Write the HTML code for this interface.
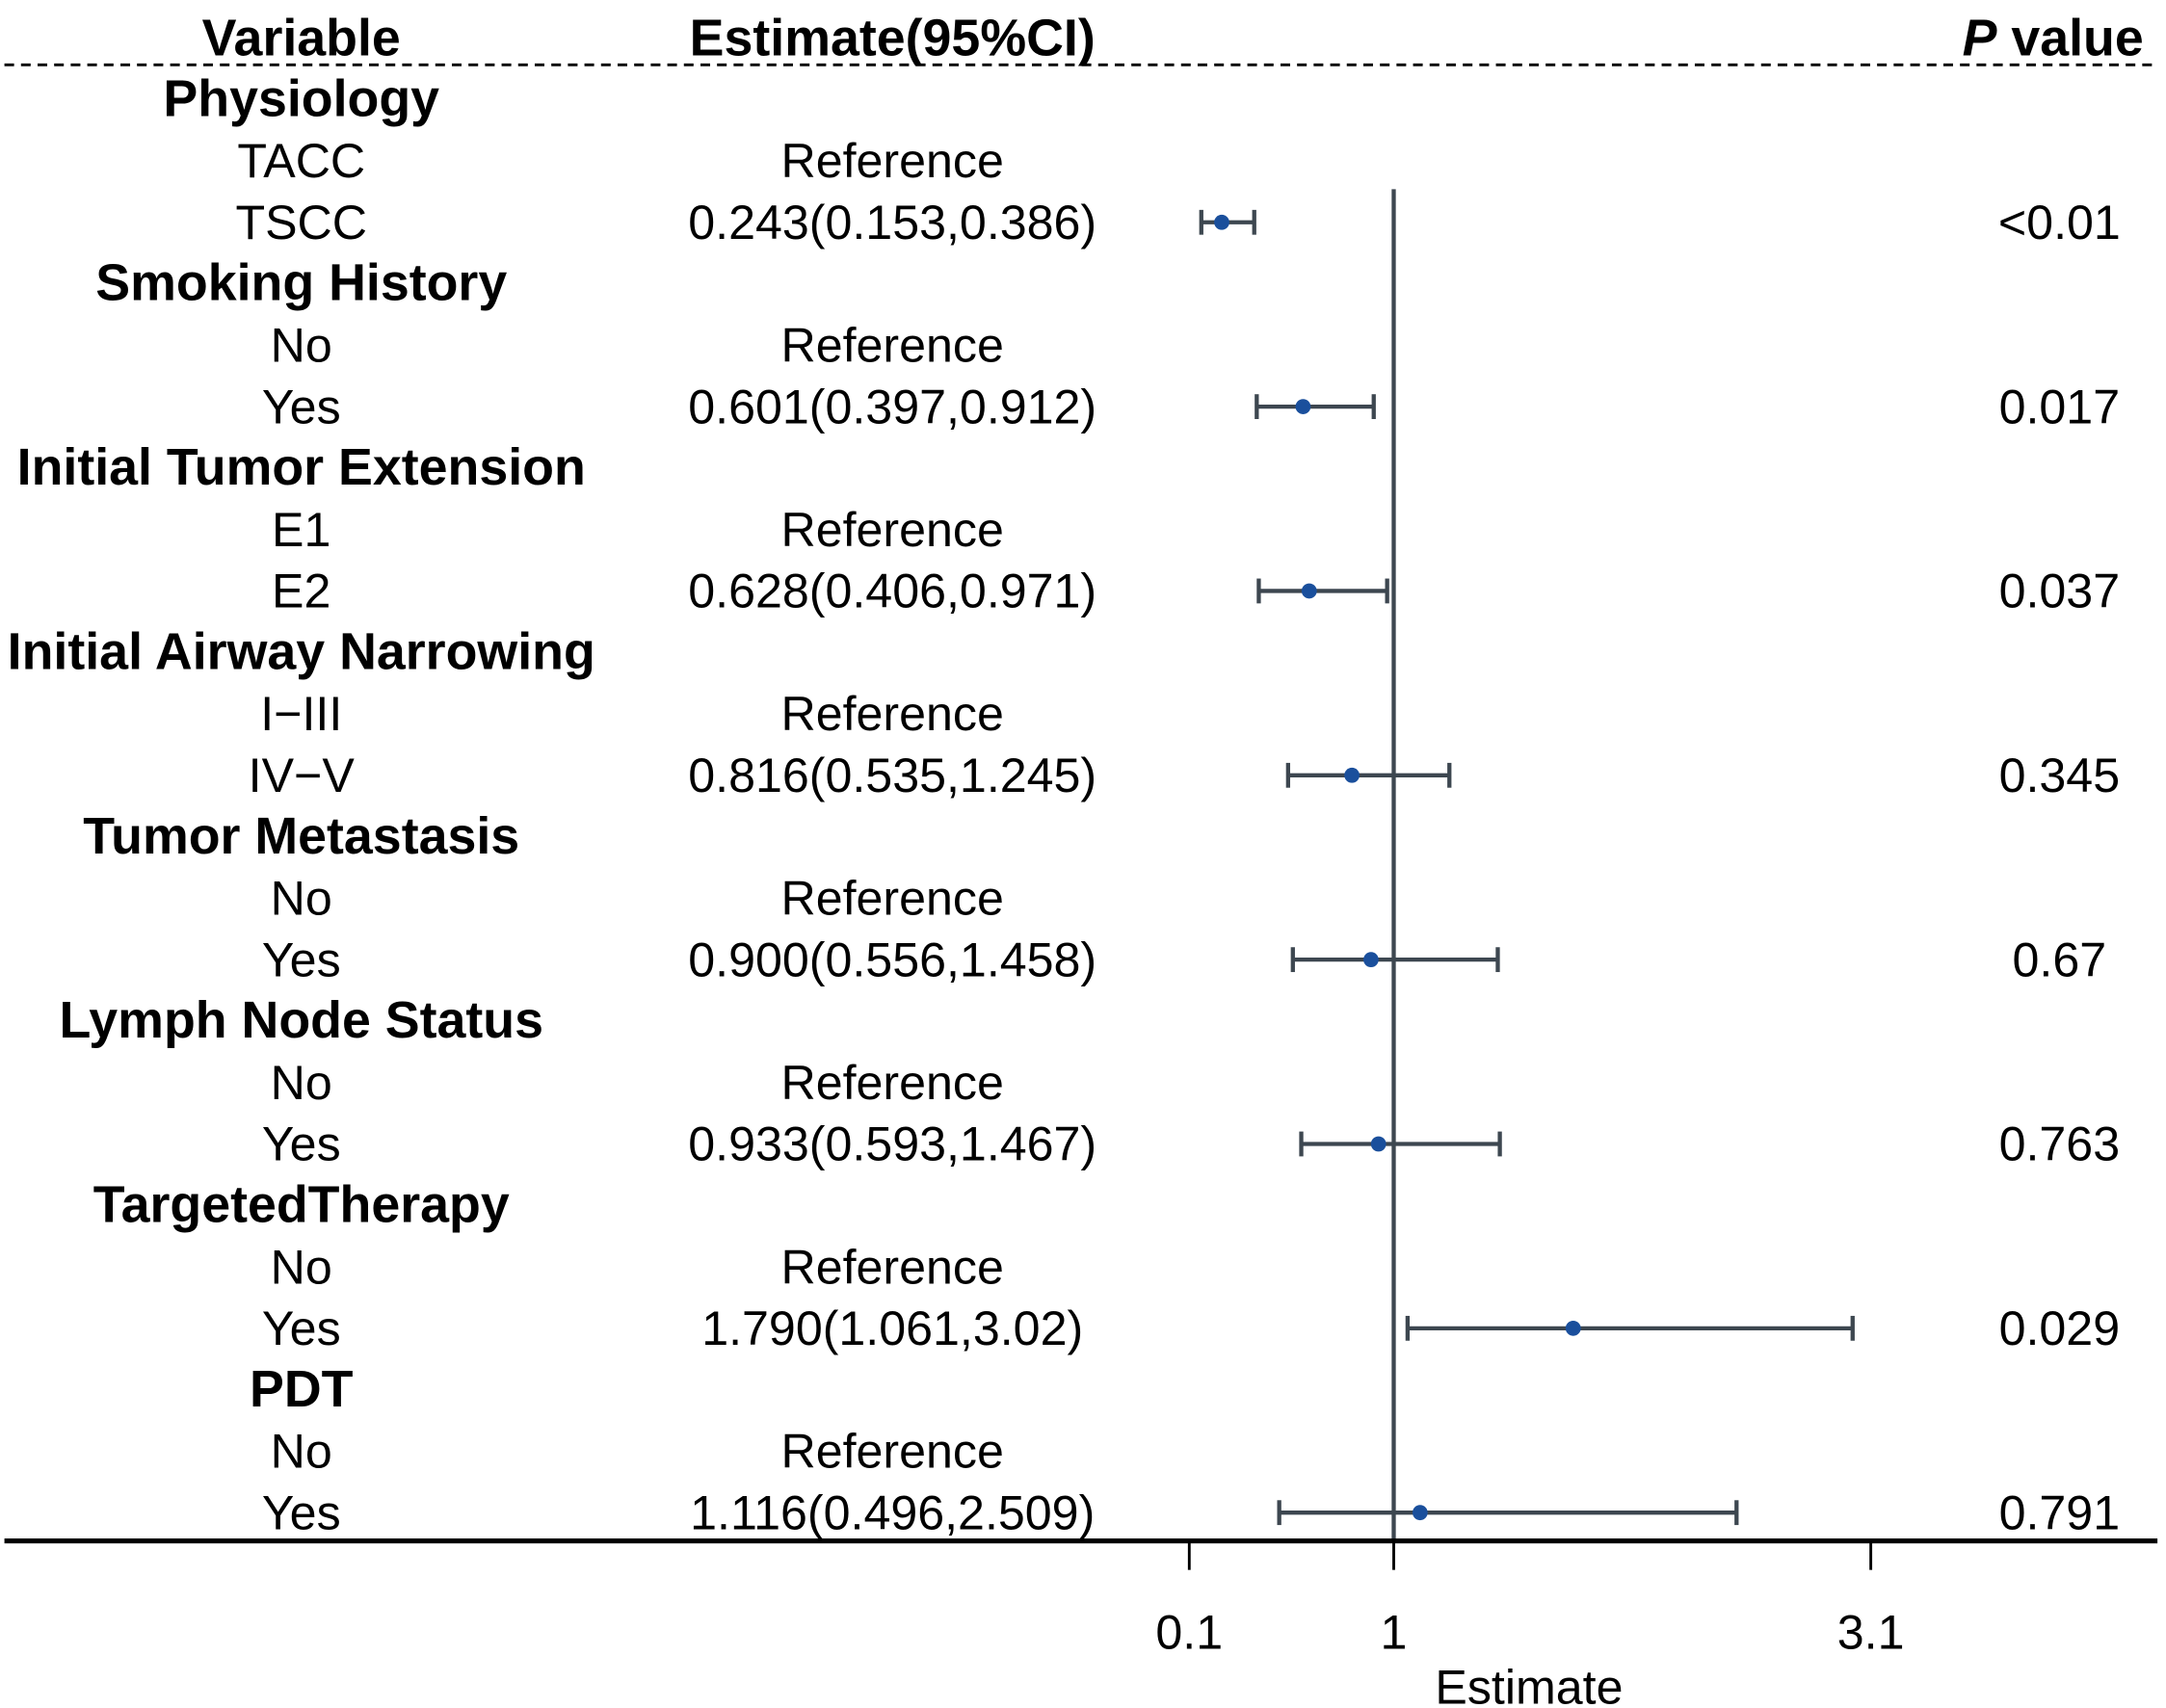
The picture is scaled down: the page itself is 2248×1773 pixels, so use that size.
<!DOCTYPE html>
<html><head><meta charset="utf-8">
<style>
html,body{margin:0;padding:0;background:#fff;}
svg{display:block;}
text{font-family:"Liberation Sans",Arial,sans-serif;font-size:35px;fill:#000;}
.b{font-weight:bold;font-size:37.5px;}
</style></head>
<body>
<svg id="chart" width="2248" height="1773" viewBox="0 0 1568 1237" xmlns="http://www.w3.org/2000/svg">
<text class="b" x="218" y="40" text-anchor="middle">Variable</text>
<text class="b" x="646" y="40" text-anchor="middle">Estimate(95%CI)</text>
<text class="b" x="1552" y="40" text-anchor="end"><tspan font-style="italic">P</tspan> value</text>
<line x1="3" y1="47" x2="1562" y2="47" stroke="#000" stroke-width="2" stroke-dasharray="7,5"/>
<g id="rows"></g>
<g id="marks"></g>
<line x1="3" y1="1116" x2="1562" y2="1116" stroke="#000" stroke-width="3.5"/>
<g id="axis"></g>
<text x="1107" y="1234" text-anchor="middle">Estimate</text>
</svg>
<script>
const labels = ["Physiology","TACC","TSCC","Smoking History","No","Yes","Initial Tumor Extension","E1","E2","Initial Airway Narrowing","I\u2212III","IV\u2212V","Tumor Metastasis","No","Yes","Lymph Node Status","No","Yes","TargetedTherapy","No","Yes","PDT","No","Yes"];
const isHeader = [1,0,0,1,0,0,1,0,0,1,0,0,1,0,0,1,0,0,1,0,0,1,0,0];
const estText = ["","Reference","0.243(0.153,0.386)","","Reference","0.601(0.397,0.912)","","Reference","0.628(0.406,0.971)","","Reference","0.816(0.535,1.245)","","Reference","0.900(0.556,1.458)","","Reference","0.933(0.593,1.467)","","Reference","1.790(1.061,3.02)","","Reference","1.116(0.496,2.509)"];
const pText = ["","","<0.01","","","0.017","","","0.037","","","0.345","","","0.67","","","0.763","","","0.029","","","0.791"];
const est = [null,null,0.243,null,null,0.601,null,null,0.628,null,null,0.816,null,null,0.900,null,null,0.933,null,null,1.790,null,null,1.116];
const lo  = [null,null,0.153,null,null,0.397,null,null,0.406,null,null,0.535,null,null,0.556,null,null,0.593,null,null,1.061,null,null,0.496];
const hi  = [null,null,0.386,null,null,0.912,null,null,0.971,null,null,1.245,null,null,1.458,null,null,1.467,null,null,3.02,null,null,2.509];
const ticks = [0.1,1,3.1];
const tickLabels = ["0.1","1","3.1"];

const NS="http://www.w3.org/2000/svg";
const xs = v => 1009 + (v-1)*164.5;
const ys = i => 72 + i*44.5;
function mk(tag, attrs, parent){const e=document.createElementNS(NS,tag);for(const k in attrs)e.setAttribute(k,attrs[k]);parent.appendChild(e);return e;}
const rows=document.getElementById('rows'), marks=document.getElementById('marks'), axis=document.getElementById('axis');
const col="#3d4750";
const ref=mk('line',{x1:xs(1),x2:xs(1),y1:137,y2:1116,stroke:col,'stroke-width':3},marks);


labels.forEach((lab,i)=>{
  const y=ys(i)+12;
  const t=mk('text',{x:218,y:y,'text-anchor':'middle'},rows);
  if(isHeader[i]) t.setAttribute('class','b');
  t.textContent=lab;
  
  
  if(estText[i]){
    const e=mk('text',{x:646,y:y,'text-anchor':'middle'},rows);
    e.textContent=estText[i];
    
    
  }
  if(pText[i]){
    const p=mk('text',{x:1491,y:y,'text-anchor':'middle'},rows);
    p.textContent=pText[i];
    
    
  }
  if(est[i]!==null){
    const cy=ys(i);
    const l=mk('line',{x1:xs(lo[i]),x2:xs(hi[i]),y1:cy,y2:cy,stroke:col,'stroke-width':3},marks);
    
    
    [lo[i],hi[i]].forEach(v=>{
      const c=mk('line',{x1:xs(v),x2:xs(v),y1:cy-9,y2:cy+9,stroke:col,'stroke-width':3},marks);
      
      
    });
    const d=mk('circle',{cx:xs(est[i]),cy:cy,r:5.5,fill:'#1a4f9c'},marks);
    
    
  }
});
ticks.forEach((v,k)=>{
  const tl=mk('line',{x1:xs(v),x2:xs(v),y1:1116,y2:1137,stroke:'#000','stroke-width':2},axis);
  
  
  const tt=mk('text',{x:xs(v),y:1194,'text-anchor':'middle'},axis);
  tt.textContent=tickLabels[k];
  
  
});
</script>
</body></html>
